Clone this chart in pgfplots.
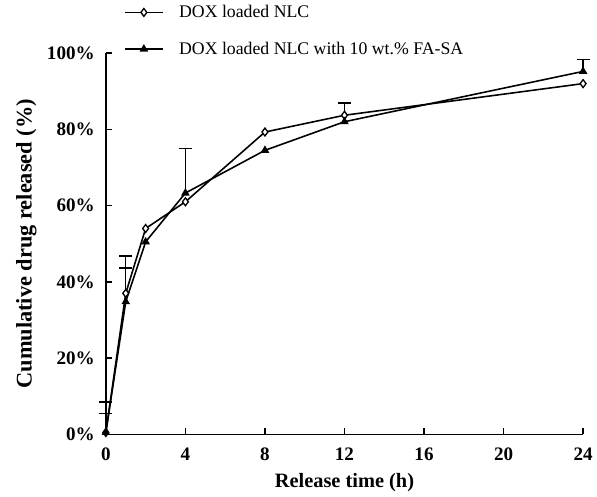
\documentclass[border=0pt]{standalone}
\usepackage{fontspec}
\setmainfont{Liberation Serif}
\usepackage{pgfplots}
\pgfplotsset{compat=1.18}

\begin{document}
\begin{tikzpicture}
\begin{axis}[
  scale only axis,
  width=363pt, height=290pt,
  xmin=0, xmax=24, ymin=0, ymax=100,
  axis lines=left,
  axis line style={-, line width=1.2pt},
  xtick={0,4,...,24},
  ytick={0,20,...,100},
  yticklabel={\pgfmathprintnumber{\tick}\%},
  tick align=inside,
  major tick length=5pt,
  tick style={line width=1pt, black},
  /pgf/number format/assume math mode=true,
  ticklabel style={font=\rmfamily\fontsize{14.5pt}{16pt}\selectfont\bfseries},
  yticklabel style={xshift=-5pt},
  xticklabel style={yshift=-6.5pt},
  xlabel={Release time (h)},
  ylabel={Cumulative drug released (\%)},
  xlabel style={font=\rmfamily\fontsize{15.5pt}{17pt}\selectfont\bfseries, yshift=-3pt},
  ylabel style={font=\rmfamily\fontsize{17pt}{19pt}\selectfont\bfseries, yshift=1pt},
  clip=false,
  legend style={at={(0.03,1.14)}, anchor=north west, draw=none, fill=none,
    font=\rmfamily\fontsize{13.5pt}{15pt}\selectfont, row sep=13pt},
  legend cell align=left,
  legend image code/.code={
    \draw[mark repeat=2, mark phase=2, #1] plot coordinates {(0cm,0cm) (0.5cm,0cm) (1cm,0cm)};
  },
]
\addplot[black, line width=1.2pt, mark=diamond*, mark options={fill=white, scale=1.5, line width=1pt}]
  coordinates {(0,0.5) (1,37) (2,54) (4,61) (8,79.3) (12,83.7) (24,92)};
\addlegendentry{\hspace{10pt}DOX loaded NLC}
\addplot[black, line width=1.2pt, mark=triangle*, mark options={fill=black, scale=1.4, line width=1pt}]
  coordinates {(0,0.5) (1,34.8) (2,50.5) (4,63.3) (8,74.5) (12,82) (24,95.2)};
\addlegendentry{\hspace{10pt}DOX loaded NLC with 10 wt.\% FA-SA}
% upper error bars
\addplot[draw=none, forget plot, mark=none,
  error bars/.cd, y dir=plus, y explicit,
  error mark options={rotate=90, mark size=5pt, line width=1pt, black},
  error bar style={line width=1pt, black}]
  coordinates {
    (0,0.5) +- (0,5)
    (1,37) +- (0,6.6)
    (12,83.7) +- (0,3.2)
  };
\addplot[draw=none, forget plot, mark=none,
  error bars/.cd, y dir=plus, y explicit,
  error mark options={rotate=90, mark size=5pt, line width=1pt, black},
  error bar style={line width=1pt, black}]
  coordinates {
    (0,0.5) +- (0,8)
    (1,34.8) +- (0,12)
    (4,63.3) +- (0,11.7)
    (24,95.2) +- (0,3.2)
  };
\end{axis}
\path (current bounding box.west) ++(-9pt,0);
\end{tikzpicture}
\end{document}
